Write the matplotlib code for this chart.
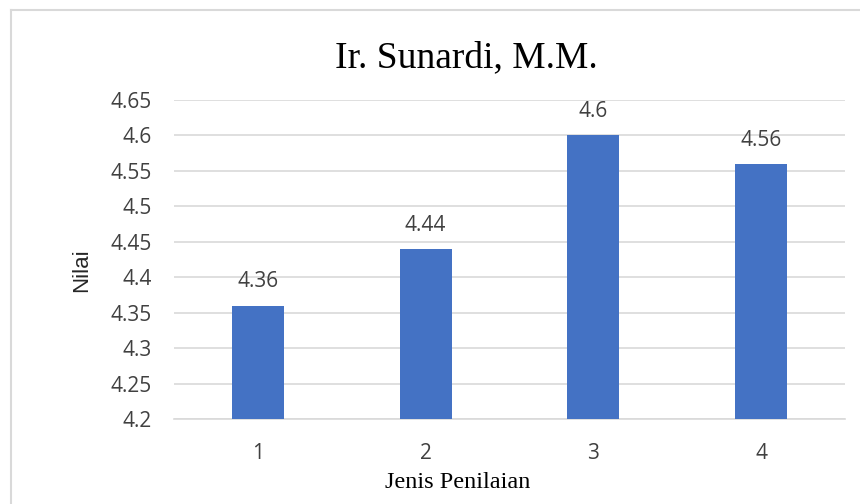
import matplotlib.pyplot as plt
import numpy as np

# data
categories = ["1", "2", "3", "4"]
nilai = [4.36, 4.44, 4.6, 4.56]
y_ticks = [4.2, 4.25, 4.3, 4.35, 4.4, 4.45, 4.5, 4.55, 4.6, 4.65]
y_tick_labels = ["4.2", "4.25", "4.3", "4.35", "4.4", "4.45", "4.5", "4.55", "4.6", "4.65"]
value_labels = ["4.36", "4.44", "4.6", "4.56"]

fig = plt.figure(figsize=(8.6, 5.04), dpi=100)
ax = fig.add_axes([174/860, 1 - 419/504, 671/860, 319/504])

x = np.arange(len(categories))
ax.bar(x, nilai, 0.31, color='#4472C4', zorder=3)

for i in range(len(x)):
    ax.annotate(value_labels[i], (x[i], nilai[i]), xytext=(0, 17), textcoords='offset points',
                ha='center', va='center', fontsize=15, color='#404040', family='Open Sans')

ax.set_xlim(-0.5, len(categories) - 0.5)
ax.set_ylim(4.2, 4.65)
ax.set_yticks(y_ticks)
ax.set_yticklabels(y_tick_labels)
ax.set_xticks(x)
ax.set_xticklabels(categories)
ax.tick_params(axis='both', length=0, labelsize=15, labelcolor='#404040')
ax.tick_params(axis='y', pad=16)
ax.tick_params(axis='x', pad=17)
for lbl in ax.get_xticklabels() + ax.get_yticklabels():
    lbl.set_family('Open Sans')

ax.grid(axis='y', color='#d9d9d9', linewidth=1.2, zorder=0)
for s in ['top', 'right', 'left']:
    ax.spines[s].set_visible(False)
ax.spines['bottom'].set_color('#d9d9d9')
ax.spines['bottom'].set_linewidth(1.2)

fig.text(82/860, 1 - 270/504, "Nilai", rotation=90, ha='center', va='center',
         fontsize=16, color='#262626', family='Liberation Sans')
fig.text(458/860, 1 - 483/504, "Jenis Penilaian", ha='center', va='center',
         fontsize=17.5, family='Liberation Serif')
fig.text(466/860, 1 - 58/504, "Ir. Sunardi, M.M.", ha='center', va='center',
         fontsize=27, family='Liberation Serif', color='#000000')

# chart border (only left/top visible in crop)
fig.add_artist(plt.Line2D([11/860, 11/860], [0, 1 - 10/504], transform=fig.transFigure,
                          color='#d9d9d9', linewidth=1.5))
fig.add_artist(plt.Line2D([11/860, 1], [1 - 10/504, 1 - 10/504], transform=fig.transFigure,
                          color='#d9d9d9', linewidth=1.5))

fig.savefig("out.png", dpi=100)
